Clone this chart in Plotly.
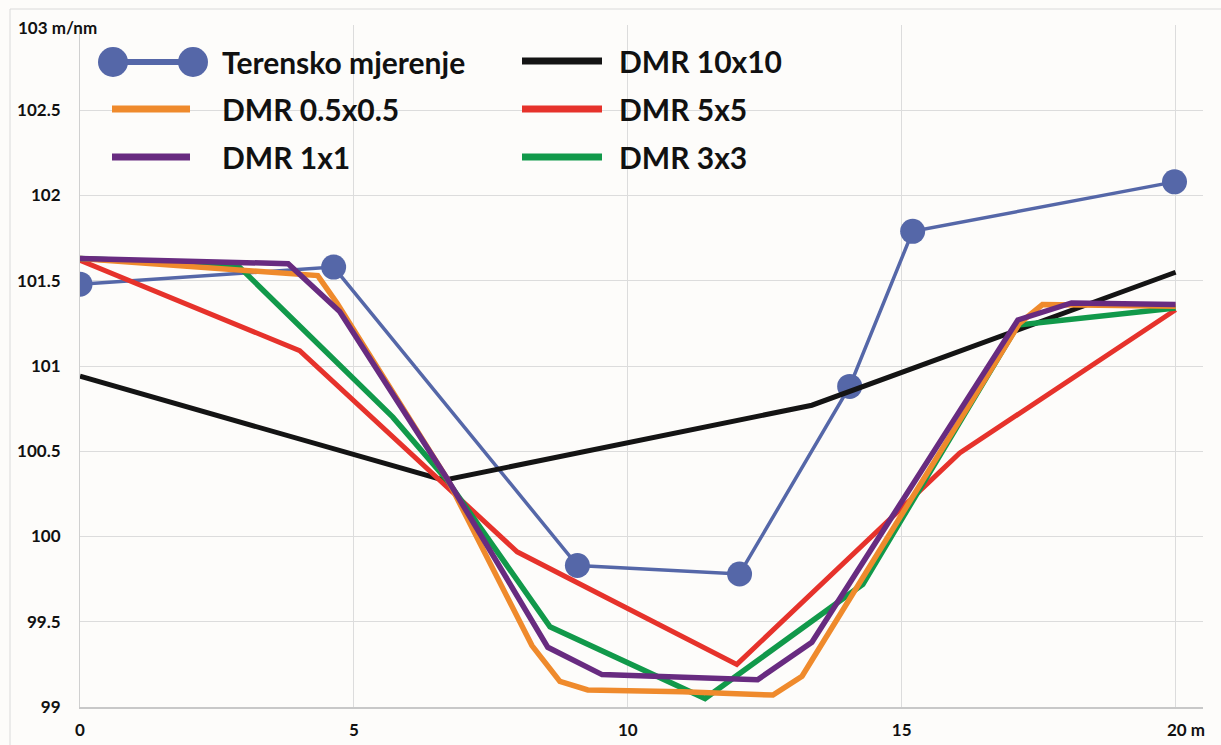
import plotly.graph_objects as go

# ---- data ----
teren_x = [0, 4.63, 9.08, 12.04, 14.05, 15.20, 19.98]
teren_y = [101.48, 101.58, 99.83, 99.78, 100.88, 101.79, 102.08]

dmr10_x = [0, 6.64, 13.36, 20]
dmr10_y = [100.94, 100.33, 100.77, 101.55]

dmr5_x = [0, 4.01, 7.98, 11.99, 16.06, 20]
dmr5_y = [101.62, 101.09, 99.91, 99.25, 100.49, 101.33]

dmr3_x = [0, 2.88, 5.71, 6.70, 8.58, 11.41, 14.29, 17.12, 20]
dmr3_y = [101.63, 101.59, 100.70, 100.33, 99.47, 99.05, 99.72, 101.24, 101.34]

dmr05_x = [0, 4.34, 4.69, 6.70, 8.25, 8.76, 9.27, 11.00, 12.65, 13.18, 17.15, 17.57, 20]
dmr05_y = [101.63, 101.53, 101.37, 100.34, 99.36, 99.15, 99.10, 99.09, 99.07, 99.18, 101.25, 101.36, 101.35]

dmr1_x = [0, 3.80, 4.74, 6.70, 8.54, 9.53, 12.37, 13.36, 17.12, 18.10, 20]
dmr1_y = [101.63, 101.60, 101.32, 100.34, 99.35, 99.19, 99.16, 99.38, 101.27, 101.37, 101.36]

x_ticks = [0, 5, 10, 15, 20]
x_ticktext = ["0", "5", "10", "15", ""]
y_ticks = [99, 99.5, 100, 100.5, 101, 101.5, 102, 102.5, 103]
y_ticktext = ["99", "99.5", "100", "100.5", "101", "101.5", "102", "102.5", ""]

names = ["Terensko mjerenje", "DMR 10x10", "DMR 0.5x0.5", "DMR 5x5", "DMR 1x1", "DMR 3x3"]
colors = {
    "Terensko mjerenje": "#5567A8",
    "DMR 10x10": "#141414",
    "DMR 0.5x0.5": "#EF8A2C",
    "DMR 5x5": "#E6322B",
    "DMR 1x1": "#682B80",
    "DMR 3x3": "#11994A",
}

W, H = 1221, 745
L, R, T, B = 80, 18, 25, 38
PW, PH = W - L - R, H - T - B
FONT = "Lato"


def px(x):
    return (x - L) / PW


def py(y):
    return 1 - (y - T) / PH


fig = go.Figure()

fig.add_trace(go.Scatter(x=teren_x, y=teren_y, mode="lines+markers", name=names[0],
                         line=dict(color=colors[names[0]], width=3.5),
                         marker=dict(size=25, color=colors[names[0]]), showlegend=False))
fig.add_trace(go.Scatter(x=dmr10_x, y=dmr10_y, mode="lines", name=names[1],
                         line=dict(color=colors[names[1]], width=5), showlegend=False))
fig.add_trace(go.Scatter(x=dmr5_x, y=dmr5_y, mode="lines", name=names[3],
                         line=dict(color=colors[names[3]], width=5), showlegend=False))
fig.add_trace(go.Scatter(x=dmr3_x, y=dmr3_y, mode="lines", name=names[5],
                         line=dict(color=colors[names[5]], width=5.5), showlegend=False))
fig.add_trace(go.Scatter(x=dmr05_x, y=dmr05_y, mode="lines", name=names[2],
                         line=dict(color=colors[names[2]], width=5.5), showlegend=False))
fig.add_trace(go.Scatter(x=dmr1_x, y=dmr1_y, mode="lines", name=names[4],
                         line=dict(color=colors[names[4]], width=5.5), showlegend=False))

# ---- manual legend (2 columns x 3 rows) ----
shapes = []
annotations = []
legend_layout = [
    (names[0], 113, 193, 220, 62),
    (names[2], 112, 190, 220, 109),
    (names[4], 112, 190, 220, 157),
    (names[1], 522, 602, 617, 61),
    (names[3], 522, 602, 617, 109),
    (names[5], 522, 602, 617, 157),
]
for nm, x0, x1, tx, yy in legend_layout:
    shapes.append(dict(type="line", xref="paper", yref="paper",
                       x0=px(x0), x1=px(x1), y0=py(yy), y1=py(yy),
                       line=dict(color=colors[nm], width=7 if nm != names[0] else 6)))
    if nm == names[0]:
        for cx in (x0, x1):
            r = 15
            shapes.append(dict(type="circle", xref="paper", yref="paper",
                               x0=px(cx - r), x1=px(cx + r), y0=py(yy + r), y1=py(yy - r),
                               fillcolor=colors[nm], line=dict(width=0)))
    annotations.append(dict(text=nm, xref="paper", yref="paper", x=px(tx), y=py(yy),
                            xanchor="left", yanchor="middle", showarrow=False,
                            font=dict(family=FONT, size=30, color="#111111", weight="bold")))

# outer frame
shapes.append(dict(type="rect", xref="paper", yref="paper", layer="below",
                   x0=px(10), x1=px(1240), y0=py(760), y1=py(9),
                   line=dict(color="#DADADA", width=1), fillcolor="rgba(0,0,0,0)"))

# unit labels
annotations.append(dict(text="103 m/nm", xref="paper", yref="y", x=px(16), y=103,
                        xanchor="left", yanchor="middle", yshift=-2, showarrow=False,
                        font=dict(family=FONT, size=17, color="#111111", weight="bold")))
annotations.append(dict(text="20 m", xref="x", yref="paper", x=20, y=py(729),
                        xanchor="left", yanchor="middle", xshift=-11, showarrow=False,
                        font=dict(family=FONT, size=17, color="#111111", weight="bold")))

tickfont = dict(family=FONT, size=17, color="#111111", weight="bold")
fig.update_xaxes(range=[0, 20.5], tickvals=x_ticks, ticktext=x_ticktext,
                 showgrid=True, gridcolor="#DCDCDC", gridwidth=1, zeroline=False,
                 showline=True, linecolor="#C8C8C8", linewidth=1.5, ticks="",
                 tickfont=tickfont, ticklabelstandoff=7)
fig.update_yaxes(range=[99, 103], tickvals=y_ticks, ticktext=y_ticktext,
                 showgrid=True, gridcolor="#DCDCDC", gridwidth=1, zeroline=False,
                 showline=True, linecolor="#D0D0D0", linewidth=1, ticks="",
                 tickfont=tickfont, ticklabelstandoff=15)

fig.update_layout(width=W, height=H, margin=dict(l=L, r=R, t=T, b=B, autoexpand=False),
                  paper_bgcolor="#FDFCFA", plot_bgcolor="#FDFCFA",
                  shapes=shapes, annotations=annotations, showlegend=False,
                  font=dict(family=FONT, color="#111111"))

fig.write_html("out.html", config={"displayModeBar": False},
               post_script="document.body.style.margin='0';document.body.style.padding='0';document.body.style.overflow='hidden';")
